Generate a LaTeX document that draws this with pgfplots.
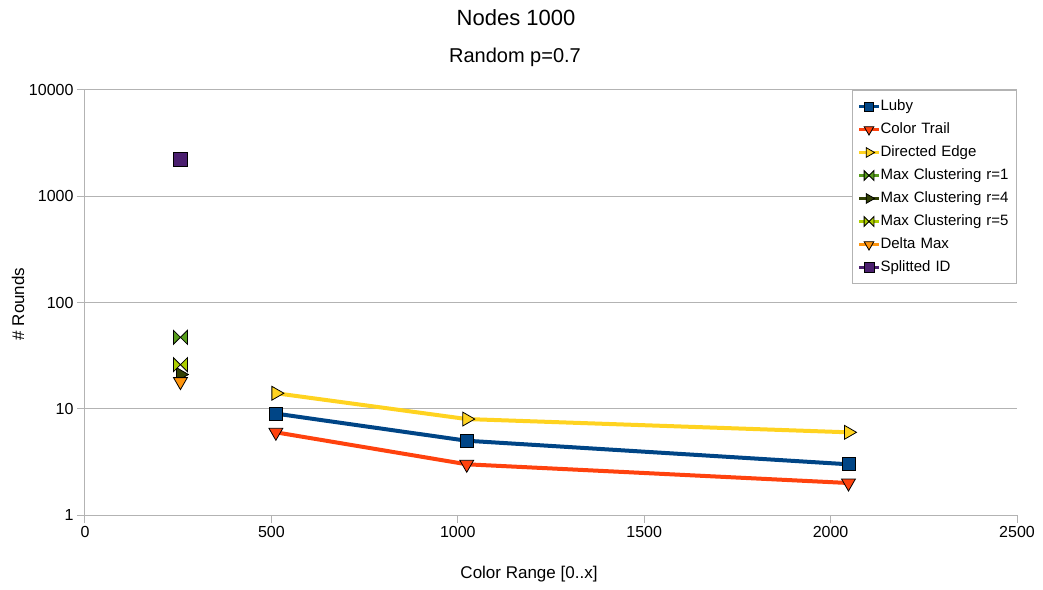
\documentclass[border=0pt]{standalone}
\usepackage{fontspec}
\setmainfont{Liberation Sans}
\usepackage{pgfplots}
\pgfplotsset{compat=1.18}
\definecolor{cLuby}{HTML}{004586}
\definecolor{cTrail}{HTML}{FF420E}
\definecolor{cDir}{HTML}{FFD320}
\definecolor{cMCa}{HTML}{579D1C}
\definecolor{cMCb}{HTML}{314004}
\definecolor{cMCc}{HTML}{AECF00}
\definecolor{cDelta}{HTML}{FF950E}
\definecolor{cSplit}{HTML}{4B1F6F}
\definecolor{gridgray}{HTML}{B3B3B3}
\pgfdeclareplotmark{bowtie}{%
 \pgfpathmoveto{\pgfqpoint{-\pgfplotmarksize}{-\pgfplotmarksize}}%
 \pgfpathlineto{\pgfqpoint{-\pgfplotmarksize}{\pgfplotmarksize}}%
 \pgfpathlineto{\pgfqpoint{\pgfplotmarksize}{-\pgfplotmarksize}}%
 \pgfpathlineto{\pgfqpoint{\pgfplotmarksize}{\pgfplotmarksize}}%
 \pgfpathclose
 \pgfusepathqfillstroke}
\begin{document}
\begin{tikzpicture}
\path[use as bounding box] (-85bp,-75bp) rectangle (958bp,515bp);
\begin{axis}[
 at={(0,0)}, anchor=south west, scale only axis,
 width=932bp, height=425bp,
 xmin=0, xmax=2500, ymin=1, ymax=10000, ymode=log,
 xtick={0,500,1000,1500,2000,2500},
 ytick={1,10,100,1000,10000},
 yticklabels={1,10,100,1000,10000},
 yminorticks=false,
 axis lines*=left,
 axis line style={gridgray, line width=1bp},
 tick align=outside, major tick length=8bp,
 tick style={gridgray, line width=1bp},
 ymajorgrids, grid style={gridgray, line width=1bp},
 /pgf/number format/assume math mode=true,
 /pgf/number format/1000 sep={},
 ticklabel style={font=\fontsize{16bp}{18bp}\selectfont},
 legend image code/.code={%
   \draw[#1,mark=none,line width=3bp] (0bp,0bp) -- (20bp,0bp);
   \draw[#1,every mark/.append style={scale=0.7}] plot coordinates {(10bp,0bp)};
 },
 legend style={at={(1,1)}, anchor=north east, draw=gridgray, line width=1bp,
   font=\fontsize{15bp}{17bp}\selectfont, cells={anchor=west},
   inner xsep=5bp, inner ysep=7bp,
   nodes={inner xsep=0bp, inner ysep=2bp, text height=11bp, text depth=3bp,
          text width=131bp, align=left},
   row sep=5bp},
]
\addplot[color=cLuby, line width=4bp, mark=square*, mark options={fill=cLuby, draw=black, line width=0.8bp, mark size=6.5bp}]
 coordinates {(512,9) (1024,5) (2048,3)};
\addlegendentry{Luby}
\addplot[color=cTrail, line width=4bp, mark=triangle*, mark options={rotate=180, fill=cTrail, draw=black, line width=0.8bp, mark size=8bp}]
 coordinates {(512,6) (1024,3) (2048,2)};
\addlegendentry{Color Trail}
\addplot[color=cDir, line width=4bp, mark=triangle*, mark options={rotate=-90, fill=cDir, draw=black, line width=0.8bp, mark size=8bp}]
 coordinates {(512,14) (1024,8) (2048,6)};
\addlegendentry{Directed Edge}
\addplot[color=cMCa, line width=4bp, mark=bowtie, mark options={fill=cMCa, draw=black, line width=0.8bp, mark size=7bp}]
 coordinates {(256,47)};
\addlegendentry{Max Clustering r=1}
\addplot[color=cMCb, line width=4bp, mark=triangle*, mark options={rotate=-90, fill=cMCb, draw=black, line width=0.8bp, mark size=8bp}]
 coordinates {(256,21)};
\addlegendentry{Max Clustering r=4}
\addplot[color=cMCc, line width=4bp, mark=bowtie, mark options={fill=cMCc, draw=black, line width=0.8bp, mark size=7bp}]
 coordinates {(256,26)};
\addlegendentry{Max Clustering r=5}
\addplot[color=cDelta, line width=4bp, mark=triangle*, mark options={rotate=180, fill=cDelta, draw=black, line width=0.8bp, mark size=8bp}]
 coordinates {(256,18)};
\addlegendentry{Delta Max}
\addplot[color=cSplit, line width=4bp, mark=square*, mark options={fill=cSplit, draw=black, line width=0.8bp, mark size=7bp}]
 coordinates {(256,2200)};
\addlegendentry{Splitted ID}
\end{axis}
\node[font=\fontsize{22bp}{26bp}\selectfont] at (431bp,497bp) {Nodes 1000};
\node[font=\fontsize{20bp}{24bp}\selectfont] at (430bp,458bp) {Random p=0.7};
\node[font=\fontsize{17bp}{20bp}\selectfont, rotate=90] at (-67bp,211bp) {\# Rounds};
\node[font=\fontsize{17bp}{20bp}\selectfont] at (444bp,-59bp) {Color Range [0..x]};
\end{tikzpicture}
\end{document}
